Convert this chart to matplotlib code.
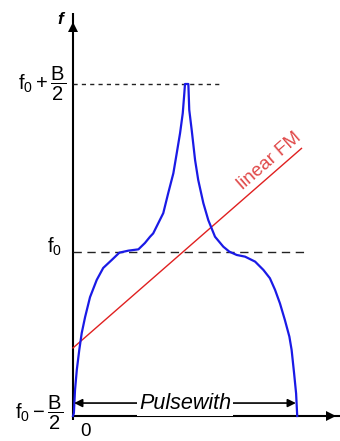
import matplotlib
matplotlib.use("Agg")
import matplotlib.pyplot as plt

plt.rcParams['font.family'] = ['Liberation Sans', 'DejaVu Sans']
plt.rcParams['mathtext.fontset'] = 'custom'
plt.rcParams['mathtext.rm'] = 'Liberation Sans'
plt.rcParams['mathtext.it'] = 'Liberation Sans:italic'
plt.rcParams['mathtext.bf'] = 'Liberation Sans:bold'

# Nonlinear FM curve (time normalised to pulse width, frequency normalised: 0 = f0-B/2, 1 = f0+B/2)
t_vals = [0.000, 0.004, 0.009, 0.017, 0.028, 0.039, 0.054, 0.076, 0.106, 0.135,
          0.173, 0.207, 0.247, 0.292, 0.321, 0.344, 0.358, 0.403, 0.425, 0.448,
          0.463, 0.478, 0.490, 0.497, 0.500, 0.515, 0.519, 0.530, 0.545, 0.559,
          0.582, 0.604, 0.634, 0.671, 0.698, 0.731, 0.768, 0.813, 0.850, 0.879,
          0.902, 0.924, 0.946, 0.966, 0.976, 0.987, 0.996, 1.001]
f_vals = [0.000, 0.009, 0.078, 0.139, 0.199, 0.250, 0.298, 0.358, 0.410, 0.446,
          0.470, 0.492, 0.498, 0.502, 0.521, 0.540, 0.550, 0.611, 0.671, 0.731,
          0.791, 0.852, 0.912, 0.972, 1.000, 1.000, 0.922, 0.861, 0.771, 0.711,
          0.641, 0.590, 0.540, 0.510, 0.495, 0.485, 0.480, 0.465, 0.440, 0.415,
          0.380, 0.339, 0.289, 0.239, 0.199, 0.129, 0.068, 0.000]

# Linear FM reference line
lin_t = [0.0, 1.02]
lin_f = [0.205, 0.806]

# Reference levels
level_top = 1.0
level_mid = 0.494
level_bot = 0.0

fig = plt.figure(figsize=(3.40, 4.41), dpi=100)
ax = fig.add_axes([0, 0, 1, 1])
ax.set_xlim(-0.3259, 1.192)
ax.set_ylim(-0.0753, 1.253)
ax.axis('off')

# axes lines
ax.plot([0, 0], [-0.012, 1.214], color='black', lw=1.5, solid_capstyle='butt')
ax.plot([0, 1.192], [0, 0], color='black', lw=1.5, solid_capstyle='butt')
ax.plot([0], [1.172], marker='^', color='black', markersize=7, markeredgewidth=0)
ax.plot([1.150], [0], marker='>', color='black', markersize=7, markeredgewidth=0)

# dashed reference lines
ax.plot([0, 0.67], [level_top, level_top], color='#222222', lw=1.0, dashes=(3, 3))
ax.plot([0, 1.054], [level_mid, level_mid], color='#222222', lw=1.0, dashes=(6, 4))

# curves
ax.plot(lin_t, lin_f, color='#e02020', lw=1.0)
ax.plot(t_vals, f_vals, color='#1a1ae6', lw=1.6, solid_joinstyle='round')

# linear FM label
ax.text(0.875, 0.768, 'linear FM', color='#e04848', fontsize=13.5, rotation=41,
        ha='center', va='center', rotation_mode='anchor')

# pulse width arrow
ax.annotate('', xy=(0.005, 0.039), xytext=(0.995, 0.039),
            arrowprops=dict(arrowstyle='<|-|>', color='black', lw=1.2,
                            mutation_scale=12, shrinkA=0, shrinkB=0))
ax.text(0.5, 0.039, 'Pulsewith', fontsize=15.5, style='italic', ha='center', va='center',
        bbox=dict(facecolor='white', edgecolor='none', pad=1.5))

# y labels
ax.text(-0.031, level_top, r'$\mathrm{f_0+\dfrac{B}{2}}$', fontsize=14.5, ha='right', va='center')
ax.text(-0.05, level_mid + 0.015, r'$\mathrm{f_0}$', fontsize=14.5, ha='right', va='center')
ax.text(-0.045, level_bot + 0.01, r'$\mathrm{f_0-\dfrac{B}{2}}$', fontsize=14.5, ha='right', va='center')
ax.text(0.058, -0.048, '0', fontsize=13.5, ha='center', va='center')
ax.text(-0.058, 1.193, 'f', fontsize=12.5, ha='center', va='center', style='italic', weight='bold')

fig.savefig('out.png', dpi=100)
